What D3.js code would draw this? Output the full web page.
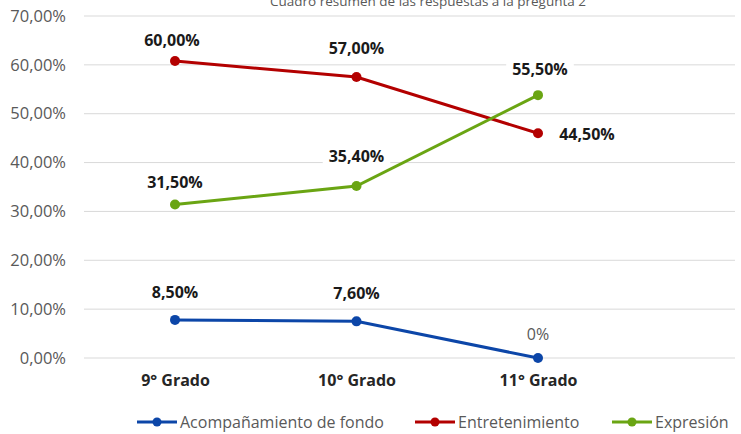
<!doctype html>
<html>
<head>
<meta charset="utf-8">
<style>
  body { margin: 0; background: #fff; }
  svg text { font-family: "Open Sans", "Noto Sans", sans-serif; }
</style>
<script src="https://d3js.org/d3.v7.min.js"></script>
</head>
<body>
<svg width="741" height="434" id="chart"></svg>
<script>
// categories and series
var grados = ["9° Grado", "10° Grado", "11° Grado"];
var acompanamiento = [7.8, 7.5, 0];
var entretenimiento = [60.8, 57.5, 46.0];
var expresion = [31.4, 35.2, 53.8];
// data labels as printed on the chart
var lblAcomp = ["8,50%", "7,60%", "0%"];
var lblEntre = ["60,00%", "57,00%", "44,50%"];
var lblExpr = ["31,50%", "35,40%", "55,50%"];
var yTicks = [0, 10, 20, 30, 40, 50, 60, 70];

var series = [
  { name: "Acompañamiento de fondo", values: acompanamiento, labels: lblAcomp, color: "#0c46a8" },
  { name: "Entretenimiento", values: entretenimiento, labels: lblEntre, color: "#b30000" },
  { name: "Expresión", values: expresion, labels: lblExpr, color: "#6aa513" }
];

var svg = d3.select("#chart");
var plotLeft = 84, plotRight = 735, plotTop = 16, plotBottom = 358;

var x = d3.scalePoint().domain(grados).range([175, 538]);
var y = d3.scaleLinear().domain([0, 70]).range([plotBottom, plotTop]);

// title (partly clipped at top, as in the source)
svg.append("text")
  .attr("x", 428).attr("y", 6)
  .attr("text-anchor", "middle")
  .attr("font-size", "13.5px")
  .attr("fill", "#595959")
  .text("Cuadro resumen de las respuestas a la pregunta 2");

// gridlines
svg.append("g").selectAll("line")
  .data(yTicks).enter().append("line")
  .attr("x1", plotLeft).attr("x2", plotRight)
  .attr("y1", function(d) { return y(d); })
  .attr("y2", function(d) { return y(d); })
  .attr("stroke", "#d9d9d9").attr("stroke-width", 1);

// y axis labels
var yAxis = d3.axisLeft(y).tickValues(yTicks).tickSize(0).tickPadding(0)
  .tickFormat(function(d) { return d3.format(".2f")(d).replace(".", ",") + "%"; });
var gy = svg.append("g").attr("transform", "translate(66,0)").call(yAxis);
gy.select(".domain").remove();
gy.selectAll("text")
  .attr("font-size", "16.5px").attr("fill", "#595959")
  .attr("font-family", "Open Sans, sans-serif");

// x axis labels
var xAxis = d3.axisBottom(x).tickSize(0).tickPadding(0);
var gx = svg.append("g").attr("transform", "translate(0,375)").call(xAxis);
gx.select(".domain").remove();
gx.selectAll("text")
  .attr("font-size", "16px").attr("font-weight", "bold").attr("fill", "#262626")
  .attr("font-family", "Open Sans, sans-serif");

var line = d3.line()
  .x(function(d, i) { return x(grados[i]); })
  .y(function(d) { return y(d); });

series.forEach(function(s) {
  svg.append("path")
    .datum(s.values)
    .attr("d", line)
    .attr("fill", "none")
    .attr("stroke", s.color)
    .attr("stroke-width", 3);
  svg.append("g").selectAll("circle")
    .data(s.values).enter().append("circle")
    .attr("cx", function(d, i) { return x(grados[i]); })
    .attr("cy", function(d) { return y(d); })
    .attr("r", 5)
    .attr("fill", s.color);
});

// data labels: [series index, point index, dx, dy]
var labelPos = [
  [0, 0, 0, -27], [0, 1, 0, -28], [0, 2, 0, -24],
  [1, 0, -3, -21], [1, 1, 0, -29], [1, 2, 49, 1],
  [2, 0, 0, -22], [2, 1, 0, -30], [2, 2, 2, -26]
];
var lg = svg.append("g");
labelPos.forEach(function(p) {
  var s = series[p[0]], i = p[1];
  var cx = x(grados[i]) + p[2], cy = y(s.values[i]) + p[3];
  var isZero = s.labels[i] === "0%";
  var t = lg.append("text")
    .attr("x", cx).attr("y", cy)
    .attr("dy", "0.35em")
    .attr("text-anchor", "middle")
    .attr("font-size", "16px")
    .attr("font-weight", isZero ? "normal" : "bold")
    .attr("fill", isZero ? "#595959" : "#1a1a1a")
    .text(s.labels[i]);
  var bb = t.node().getBBox();
  lg.insert("rect", function() { return t.node(); })
    .attr("x", bb.x - 6).attr("y", bb.y)
    .attr("width", bb.width + 12).attr("height", bb.height)
    .attr("fill", "#fff");
});

// legend
var legendX = [137, 415, 612];
var legend = svg.append("g");
series.forEach(function(s, i) {
  var g = legend.append("g").attr("transform", "translate(" + legendX[i] + ",422)");
  g.append("line").attr("x1", 0).attr("x2", 40).attr("y1", 0).attr("y2", 0)
    .attr("stroke", s.color).attr("stroke-width", 3);
  g.append("circle").attr("cx", 20).attr("cy", 0).attr("r", 4.5).attr("fill", s.color);
  g.append("text").attr("x", 43).attr("y", 0).attr("dy", "0.35em")
    .attr("font-size", "16px").attr("fill", "#595959")
    .text(s.name);
});
</script>
</body>
</html>
